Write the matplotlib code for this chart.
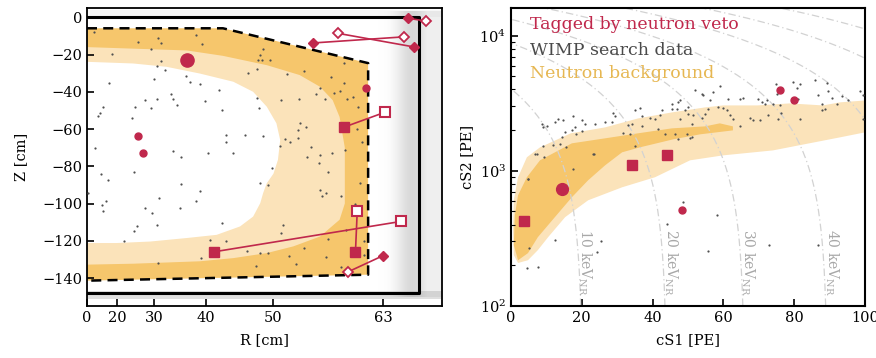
import numpy as np
import matplotlib
matplotlib.use('Agg')
import matplotlib.pyplot as plt

plt.rcParams['font.family'] = 'DejaVu Serif'
plt.rcParams['mathtext.fontset'] = 'dejavuserif'
plt.rcParams['font.size'] = 10.5

red = '#c0284c'
dotc = '#505050'
dark_or = '#f6c66c'
light_or = '#fbe3ba'
line_gray = '#d2d2d2'

# ---------------- left panel data (R [cm], Z [cm]) ----------------
wimp_r = [9.9, 26.1, 30.8, 31.6, 29.4, 38.3, 39.2, 18.2, 30.6, 31.6, 32.3, 30.0, 36.4, 37.2,
          38.9, 17.2, 13.2, 12.3, 14.8, 25.4, 27.9, 29.4, 30.7, 33.5, 33.9, 34.7, 39.7, 42.1,
          42.6, 24.5, 10.4, 25.2, 13.7, 34.0, 35.5, 40.3, 43.2, 43.2, 44.3, 46.0, 48.6, 47.8,
          48.0, 46.5, 47.7, 47.9, 48.4, 48.2, 49.6, 48.6, 49.8, 50.9, 51.5, 52.2, 53.2, 51.0,
          51.8, 53.3, 53.9, 53.4, 53.2, 54.2, 54.3, 54.8, 55.9, 55.8, 55.4, 55.9, 56.5, 57.2,
          57.6, 58.2, 58.7, 58.7, 59.1, 59.7, 60.3, 60.7, 60.2, 58.8, 57.3, 56.9,
          16.9, 35.6, 38.9, 48.2, 49.2, 55.9, 56.6, 56.1, 58.4, 60.5, 60.0, 4.2, 14.0, 16.0,
          14.8, 27.9, 29.6, 31.1, 35.3, 38.2, 26.0, 25.2, 30.6, 22.4, 42.6, 40.6, 43.2, 46.3,
          48.2, 49.3, 51.3, 51.0, 52.1, 53.0, 54.0, 47.6, 39.1, 30.8, 56.9, 56.6, 58.9, 58.4,
          59.7, 60.9, 60.9]
wimp_z = [-7.9, -13.2, -11.1, -13.7, -17.1, -9.3, -14.1, -19.5, -26.1, -23.4, -28.4, -33, -31.6, -34.6,
          -35.9, -35.2, -51.2, -53, -48.4, -48, -44.5, -48.6, -43.6, -41.2, -44.1, -47.1, -45, -39.1,
          -49.8, -54.3, -70, -82.9, -84.1, -71.6, -75.2, -73, -63.2, -67.1, -73, -63.2, -63.7, -43.2,
          -48.7, -29.8, -27.5, -23, -23, -20, -23, -17.1, -81, -68.9, -65.5, -66.8, -65, -44.5,
          -30.5, -43.9, -28.9, -56.6, -60.5, -58.7, -74.8, -69.5, -73.9, -78.4, -41.2, -37.7, -43.9, -32.3,
          -40.7, -39.5, -35.2, -24.8, -43.9, -42.7, -48.4, -66.8, -60.2, -71.2, -73, -82.9,
          -87.3, -89.6, -93, -89.1, -90, -92.7, -94.1, -96.2, -96.2, -89.1, -100.2, -94.1, -100.7, -98.9,
          -103.9, -102.5, -105.3, -97.1, -102.5, -98.4, -111.9, -114.6, -111.4, -120, -110.2, -119.4, -120.3, -125.3,
          -126.6, -126.6, -111.4, -115.9, -128, -132.5, -123.9, -133.7, -129.2, -131.9, -119.1, -128.7, -114.1, -134.3,
          -123.9, -120.3, -127.8]

# fiducial volume (dashed) and background contours
fv_r = [0, 42.7, 61.4, 61.4, 0]
fv_z = [-5.9, -5.9, -24.6, -138.2, -141.4]
mid_r = [0, 36.6, 42.7, 49.1, 53.4, 55.9, 57.4, 58.2, 58.8, 58.8, 58.2, 55.9, 52.6, 49.1, 44.3, 38.9, 24.9, 0]
mid_z = [-16, -17.8, -20.7, -25.7, -31, -37.3, -44.5, -53.5, -70, -100, -108.7, -117.7, -123, -126.6, -129.3, -131, -132.3, -132.8]
core_r = [0, 24.9, 32.7, 38.9, 44.3, 47.2, 49.1, 50.4, 50.9, 50.6, 50.0, 49.1, 48.6, 48.2, 47.2, 45.3, 41.7, 36.6, 29.1, 19.9, 0]
core_z = [-23.9, -24.8, -26.6, -30.2, -34.6, -40, -48, -56.9, -65.9, -76.6, -84, -89.1, -94.4, -99.8, -107, -112.3, -116.8, -118.5, -120.4, -121.2, -121.2]

tpc_r = [0, 66.7, 66.7, 0]
tpc_z = [0, 0, -148, -148]

# tagged events
tag_circ_r = [36.6, 26.1, 27.4, 61.2]
tag_circ_z = [-23, -64, -73, -38]
tag_circ_big = [True, False, False, False]
sq_filled = [(58.7, -59), (41.3, -125.9), (60.0, -126)]
sq_open = [(63.2, -51), (64.9, -109.6), (60.2, -104)]
dm_filled = [(55.0, -13.8), (66.2, -15.9), (65.6, -0.5), (63.0, -128)]
dm_open = [(65.2, -10.5), (58.0, -8.6), (67.4, -2.0), (59.2, -136.6)]

# ---------------- right panel data (cS1, cS2) ----------------
s1_data = [8.7, 10.1, 12.4, 13.4, 14.8, 17.6, 20.0, 20.9, 18.1, 17.1, 15.3, 14.3, 12.0, 9.1, 7.3,
           13.8, 15.5, 18.5, 20.0, 23.7, 26.6, 28.4, 29.4, 28.9, 33.1, 34.1, 33.6, 31.7, 35.0, 23.3,
           17.6, 4.9, 37.1, 36.4, 35.0, 39.3, 40.7, 42.1, 42.6, 45.4, 45.4, 47.3, 47.7, 46.8, 49.2,
           50.1, 49.9, 47.7, 51.0, 52.0, 53.9, 43.5, 46.3, 49.6, 50.6, 47.3, 36.9, 41.6, 9.1,
           75.0, 79.8, 81.6, 80.7, 81.2, 85.9, 89.2, 89.6, 86.8, 87.8, 88.7, 90.6, 93.4, 92.0, 95.3,
           98.6, 99.5, 99.5, 75.2, 74.1, 72.2, 70.8, 76.0, 65.6, 64.7, 69.8, 71.8, 61.4, 59.0, 57.2,
           54.3, 56.2, 58.6, 60.0, 61.1, 61.9, 62.8, 64.7, 67.5, 68.4, 70.3, 72.7, 76.4, 75.5, 81.6,
           87.8, 55.7, 54.8, 53.9, 51.5, 51.0,
           6.8, 9.4, 23.5, 4.7, 5.1, 12.4, 25.3, 24.2, 4.4, 7.5, 48.5, 44.2,
           58.1, 55.7, 73.0, 86.8]
s2_data = [2203, 2128, 2291, 2399, 2388, 2523, 2360, 2228, 2104, 2013, 1936, 1778, 1542, 1524, 1340,
           1585, 1500, 1858, 1968, 2203, 2291, 2291, 2523, 2673, 2168, 2203, 1879, 1901, 1517, 1340,
           1038, 875, 2523, 2924, 2799, 2466, 2427, 2570, 2825, 2877, 3097, 3221, 3311, 2877, 2799,
           2958, 2642, 2427, 2228, 3926, 3715, 1879, 1879, 1879, 1758, 1726, 2128, 2046, 2104,
           4395, 4529, 4395, 4111, 3412, 4656, 4446, 3882, 3606, 3097, 2877, 3467, 3548, 3097, 3350,
           3882, 3606, 2427, 3715, 3097, 3311, 3221, 3041, 3467, 3388, 3373, 3133, 3412, 4207, 3819,
           3606, 3350, 2958, 2924, 2825, 2600, 2427, 2128, 2466, 2360, 2388, 2570, 2673, 2427, 2427,
           2799, 2877, 2612, 2466, 2570, 1778,
           1324, 1265, 1324, 875, 269, 310, 302, 249, 190, 195, 589, 403,
           470, 256, 282, 282]

band_light_s1 = [2.0, 4.5, 8.2, 16.9, 26.6, 35.9, 45.5, 54.8, 59.9, 69.5, 78.8, 88.1, 92.9, 100,
                 100, 92.9, 74.0, 59.9, 50.6, 40.7, 31.4, 21.8, 15.3, 10.5, 7.6, 4.8, 2.0, 0.8, 0.6, 0.8]
band_light_s2 = [896, 1259, 1490, 1893, 2094, 2439, 2704, 2942, 3044, 3044, 3150, 3044, 3206, 3311,
                 1924, 1766, 1415, 1300, 1195, 896, 755, 605, 454, 323, 259, 218, 208, 238, 364, 605]
band_dark_s1 = [1.1, 2.0, 4.5, 8.2, 17.2, 26.6, 35.9, 45.5, 54.8, 59.0, 62.7,
                62.7, 53.4, 45.8, 36.4, 31.4, 26.6, 21.8, 17.2, 12.4, 7.6, 4.8, 2.0, 0.8]
band_dark_s2 = [470, 659, 896, 1195, 1596, 1738, 1893, 2060, 2130, 2243, 2130,
                1990, 1860, 1708, 1490, 1370, 1098, 851, 637, 454, 323, 246, 218, 282]

nv_circ_s1 = [14.5, 48.3, 76.0, 80.0]
nv_circ_s2 = [730, 517, 3975, 3314]
nv_circ_big = [True, False, False, False]
nv_sq_s1 = [3.8, 34.3, 44.1]
nv_sq_s2 = [424, 1097, 1300]

enr_kev = [10, 20, 30, 40, 50, 60, 70, 80]
enr_s1_intercept = [20.2, 44.0, 66.0, 89.4, 112, 134, 156, 178]
enr_label_s1 = [20.8, 45.2, 67.0, 90.6]

# ---------------- figure ----------------
fig = plt.figure(figsize=(8.76, 3.58), dpi=100)
ax1 = fig.add_axes([0.0993, 0.1453, 0.4053, 0.8324])
ax2 = fig.add_axes([0.5833, 0.1453, 0.4041, 0.8324])

# R^2 axis
ax1.set_xscale('function', functions=(lambda r: np.sign(r) * r**2,
                                       lambda s: np.sign(s) * np.sqrt(np.abs(s))))
ax1.set_xlim(0, 69)
ax1.set_ylim(-155, 5)

# edge events (dense gray cloud near the wall)
for r0 in np.arange(62.5, 69.0, 0.1):
    a = 0.30 * np.exp(-((r0 - 66.0) / 1.6) ** 2)
    if r0 > 66.7:
        a = max(a, 0.12)
    ax1.axvspan(r0, r0 + 0.1, ymin=0.03, ymax=0.99, color='gray', alpha=a, lw=0)
ax1.axhspan(-151, -147, color='gray', alpha=0.25, lw=0)
ax1.axhspan(0, 4, color='gray', alpha=0.06, lw=0)

ax1.fill(fv_r, fv_z, color=dark_or, lw=0, zorder=1)
ax1.fill(mid_r, mid_z, color=light_or, lw=0, zorder=1.1)
ax1.fill(core_r, core_z, color='white', lw=0, zorder=1.2)
ax1.plot(fv_r, fv_z, ls='--', color='k', lw=1.8, dashes=(4, 2.5), zorder=3)
ax1.plot(tpc_r, tpc_z, color='k', lw=2.2, zorder=3)

ax1.plot(wimp_r, wimp_z, 'o', color=dotc, ms=1.6, mew=0, zorder=4)

for (rf, zf), (ro, zo) in zip(sq_filled, sq_open):
    ax1.plot([rf, ro], [zf, zo], color=red, lw=1.2, zorder=5)
    ax1.plot(rf, zf, 's', color=red, ms=7.5, zorder=6)
    ax1.plot(ro, zo, 's', mfc='white', mec=red, mew=1.5, ms=6.5, zorder=6)
for (rf, zf), (ro, zo) in zip(dm_filled, dm_open):
    ax1.plot([rf, ro], [zf, zo], color=red, lw=1.2, zorder=5)
    ax1.plot(rf, zf, 'D', color=red, ms=5, zorder=6)
    ax1.plot(ro, zo, 'D', mfc='white', mec=red, mew=1.3, ms=5, zorder=6)
for r, z, big in zip(tag_circ_r, tag_circ_z, tag_circ_big):
    ax1.plot(r, z, 'o', color=red, ms=9.5 if big else 5, zorder=6)

ax1.set_xticks([0, 20, 30, 40, 50, 63])
ax1.set_yticks(np.arange(-140, 1, 20))
ax1.tick_params(direction='in', length=5, width=1.2)
ax1.set_xlabel('R [cm]', labelpad=6)
ax1.set_ylabel('Z [cm]', labelpad=10)
for s in ax1.spines.values():
    s.set_linewidth(1.3)

# right panel
ax2.set_yscale('log')
ax2.set_xlim(0, 100)
ax2.set_ylim(100, 16000)

s2_grid = np.geomspace(100, 16000, 200)
for e, a in zip(enr_kev, enr_s1_intercept):
    ax2.plot(a - s2_grid / 200.0, s2_grid, color=line_gray, lw=0.9,
             dashes=(6, 2.5, 1, 2.5), zorder=2)
for e, xl in zip(enr_kev, enr_label_s1):
    ax2.text(xl, 210, f'{e} keV$_{{\\rm NR}}$', rotation=-90, color='#a8a8a8',
             ha='center', va='center', fontsize=10, zorder=2)

ax2.fill(band_light_s1, band_light_s2, color=light_or, lw=0, zorder=1)
ax2.fill(band_dark_s1, band_dark_s2, color=dark_or, lw=0, zorder=1.1)
ax2.plot(s1_data, s2_data, 'o', color=dotc, ms=1.6, mew=0, zorder=4)
ax2.plot(nv_sq_s1, nv_sq_s2, 's', color=red, ms=7, zorder=6)
for x, y, big in zip(nv_circ_s1, nv_circ_s2, nv_circ_big):
    ax2.plot(x, y, 'o', color=red, ms=8.5 if big else 5, zorder=6)

ax2.text(0.054, 0.943, 'Tagged by neutron veto', color=red, transform=ax2.transAxes,
         fontsize=12.5, va='center', zorder=7)
ax2.text(0.054, 0.859, 'WIMP search data', color='#4a4a4a', transform=ax2.transAxes,
         fontsize=12.5, va='center', zorder=7)
ax2.text(0.054, 0.780, 'Neutron background', color='#e6b752', transform=ax2.transAxes,
         fontsize=12.5, va='center', zorder=7)

ax2.set_xticks([0, 20, 40, 60, 80, 100])
ax2.tick_params(which='major', direction='in', length=5, width=1.2)
ax2.tick_params(which='minor', direction='in', length=3, width=0.8)
ax2.set_xlabel('cS1 [PE]', labelpad=6)
ax2.set_ylabel('cS2 [PE]')
for s in ax2.spines.values():
    s.set_linewidth(1.5)

fig.savefig('out.png', dpi=100)
